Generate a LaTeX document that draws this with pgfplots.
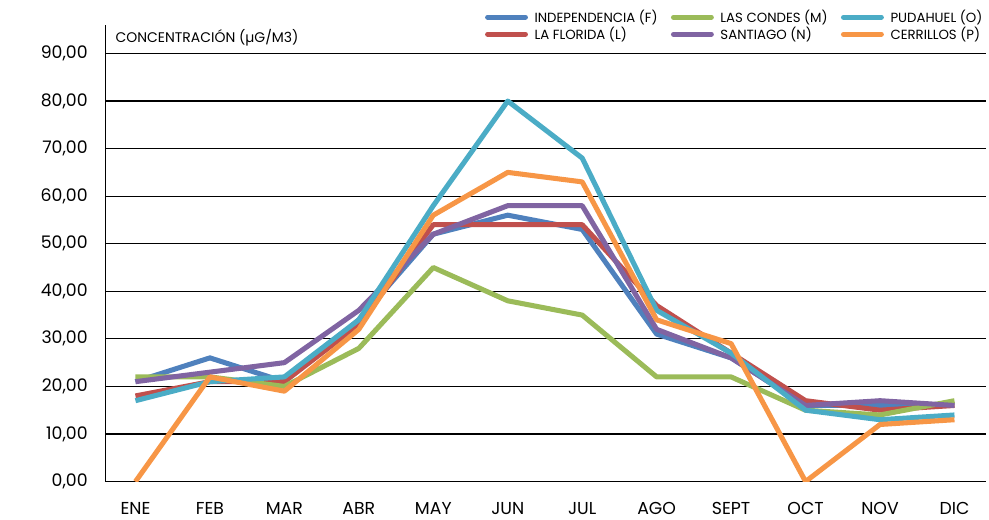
\documentclass[border=0pt]{standalone}
\usepackage{pgfplots}
\pgfplotsset{compat=1.18}
\usetikzlibrary{calc}
\usepackage{fontspec}
\setmainfont{Poppins}
\definecolor{cF}{HTML}{4F81BD}
\definecolor{cL}{HTML}{C0504D}
\definecolor{cM}{HTML}{9BBB59}
\definecolor{cN}{HTML}{8064A2}
\definecolor{cO}{HTML}{4BACC6}
\definecolor{cP}{HTML}{F79646}
\begin{document}
\begin{tikzpicture}
\begin{axis}[
  scale only axis,
  width=662pt, height=343.5pt,
  xmin=-0.4, xmax=11.42,
  ymin=0, ymax=96,
  ytick={0,10,...,90},
  xtick={0,...,11},
  xticklabels={ENE,FEB,MAR,ABR,MAY,JUN,JUL,AGO,SEPT,OCT,NOV,DIC},
  axis x line=bottom, axis y line=left,
  axis line style={-, black, line width=0.8pt},
  major tick length=0pt,
  ymajorgrids,
  grid style={black, line width=0.8pt},
  /pgf/number format/.cd, fixed, fixed zerofill, precision=2, use comma, assume math mode=true,
  /pgfplots/.cd,
  yticklabel style={font=\fontsize{13}{15}\selectfont, xshift=-10pt},
  xticklabel style={font=\fontsize{13}{15}\selectfont, yshift=-12pt},
  every axis plot/.append style={line width=3.8pt, mark=none, line join=round},
  legend style={draw=none, fill=none, at={(rel axis cs:1.004,1.045)}, anchor=north east,
    font=\fontsize{10}{11}\selectfont, row sep=-2pt, column sep=3pt,
    /tikz/every even column/.append style={column sep=8pt}},
  legend cell align=left,
  legend columns=2, transpose legend,
  legend image code/.code={\draw[#1, line cap=round] (0cm,0cm) -- (1.0cm,0cm);},
]
\addplot[cF] coordinates {(0,21)(1,26)(2,21)(3,34)(4,52)(5,56)(6,53)(7,31)(8,26)(9,16)(10,16)(11,16)};
\addlegendentry{INDEPENDENCIA (F)}
\addplot[cL] coordinates {(0,18)(1,21)(2,21)(3,33)(4,54)(5,54)(6,54)(7,37)(8,27)(9,17)(10,15)(11,16)};
\addlegendentry{LA FLORIDA (L)}
\addplot[cM] coordinates {(0,22)(1,22)(2,20)(3,28)(4,45)(5,38)(6,35)(7,22)(8,22)(9,15)(10,14)(11,17)};
\addlegendentry{LAS CONDES (M)}
\addplot[cN] coordinates {(0,21)(1,23)(2,25)(3,36)(4,52)(5,58)(6,58)(7,32)(8,26)(9,16)(10,17)(11,16)};
\addlegendentry{SANTIAGO (N)}
\addplot[cO] coordinates {(0,17)(1,21)(2,22)(3,34)(4,58)(5,80)(6,68)(7,36)(8,27)(9,15)(10,13)(11,14)};
\addlegendentry{PUDAHUEL (O)}
\addplot[cP] coordinates {(0,0)(1,22)(2,19)(3,32)(4,56)(5,65)(6,63)(7,34)(8,29)(9,0)(10,12)(11,13)};
\addlegendentry{CERRILLOS (P)}
\node[anchor=north west, font=\fontsize{10.5}{12}\selectfont, inner sep=0pt] at (axis description cs:0.011,0.99) {CONCENTRACIÓN (µG/M3)};
\end{axis}
\useasboundingbox ($(current axis.south west)+(-79.5pt,-28.5pt)$) rectangle ($(current axis.north east)+(0pt,18.75pt)$);
\end{tikzpicture}
\end{document}
